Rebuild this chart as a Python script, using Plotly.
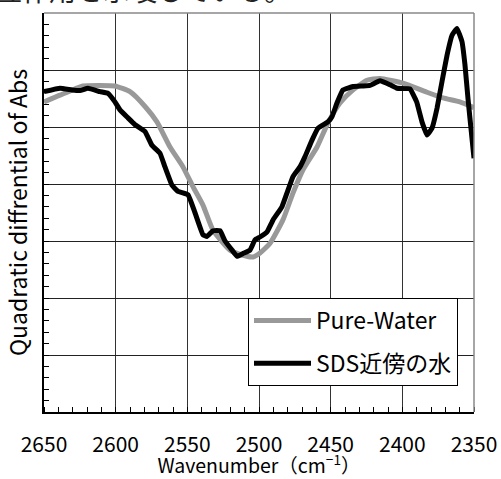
import plotly.graph_objects as go

# Pure-Water (gray)
pw_x = [2650, 2638.8, 2622.8, 2610.9, 2600.5, 2590.0, 2579.5, 2571.2, 2562.1, 2553.0,
        2546.0, 2539.1, 2532.1, 2520.2, 2511.2, 2504.2, 2499.3, 2492.3, 2483.3, 2476.3,
        2469.3, 2459.5, 2451.9, 2443.5, 2434.4, 2424.7, 2415.6, 2399.5, 2382.8, 2371.6,
        2359.8, 2350]
pw_y = [5.44, 5.56, 5.72, 5.73, 5.72, 5.62, 5.36, 5.09, 4.65, 4.30,
        3.95, 3.63, 3.19, 2.84, 2.75, 2.72, 2.79, 2.96, 3.37, 3.84,
        4.25, 4.65, 5.07, 5.42, 5.65, 5.82, 5.85, 5.77, 5.61, 5.51,
        5.44, 5.34]

# SDS近傍の水 (black)
sds_x = [2650, 2638.8, 2630.5, 2624.9, 2619.3, 2610.9, 2605.3, 2600.5, 2597.0, 2591.4,
         2586.5, 2579.5, 2574.7, 2569.1, 2565.6, 2560.7, 2556.5, 2549.5, 2544.7, 2539.1,
         2536.3, 2532.1, 2527.2, 2523.7, 2518.8, 2515.3, 2511.2, 2506.3, 2502.8, 2499.3,
         2494.4, 2490.2, 2484.0, 2480.5, 2476.3, 2471.4, 2467.9, 2463.0, 2458.8, 2451.9,
         2449.1, 2445.6, 2441.4, 2434.4, 2427.4, 2422.6, 2415.6, 2408.6, 2403.7, 2394.7,
         2390.0, 2386.3, 2382.8, 2379.3, 2375.8, 2372.3, 2368.8, 2365.3, 2361.9, 2358.4,
         2356.3, 2354.2, 2351.4, 2350]
sds_y = [5.62, 5.68, 5.65, 5.64, 5.68, 5.62, 5.59, 5.44, 5.30, 5.16,
         5.04, 4.92, 4.68, 4.54, 4.30, 3.98, 3.87, 3.81, 3.50, 3.11,
         3.08, 3.18, 3.18, 3.00, 2.84, 2.73, 2.78, 2.84, 3.02, 3.07,
         3.16, 3.37, 3.60, 3.84, 4.13, 4.30, 4.48, 4.77, 4.98, 5.09,
         5.18, 5.42, 5.65, 5.71, 5.72, 5.73, 5.81, 5.74, 5.68, 5.67,
         5.44, 5.09, 4.86, 4.98, 5.33, 5.80, 6.26, 6.61, 6.73, 6.50,
         6.09, 5.50, 4.80, 4.45]

x_ticks = [2650, 2600, 2550, 2500, 2450, 2400, 2350]
x_tick_labels = [str(v) for v in x_ticks]

FONT = "Noto Sans CJK JP"

fig = go.Figure()
fig.add_trace(go.Scatter(x=pw_x, y=pw_y, mode="lines", name="Pure-Water",
                         legendgroup="a",
                         line=dict(color="#999999", width=5, shape="spline", smoothing=0.5)))
fig.add_trace(go.Scatter(x=sds_x, y=sds_y, mode="lines", name="SDS近傍の水",
                         legendgroup="b",
                         line=dict(color="#000000", width=5, shape="spline", smoothing=0.3)))

fig.update_layout(
    width=501, height=479,
    margin=dict(l=44, r=27, t=13, b=67, autoexpand=False),
    paper_bgcolor="white", plot_bgcolor="white",
    font=dict(family=FONT, color="black"),
    showlegend=True,
    legend=dict(x=0.9628, xanchor="right", y=0.2857, yanchor="top",
                bgcolor="white", bordercolor="black", borderwidth=1,
                font=dict(size=23, family=FONT), tracegroupgap=10,
                itemwidth=57),
    xaxis=dict(range=[2650, 2350], tickvals=x_ticks, ticktext=x_tick_labels,
               showgrid=True, gridcolor="#333333", gridwidth=1,
               showline=True, linecolor="black", linewidth=1.5,
               ticks="", ticklabelstandoff=13, automargin=True,
               tickfont=dict(size=21, family=FONT),
               minor=dict(dtick=10, ticks="inside", ticklen=5, tickcolor="black", showgrid=False),
               title=dict(text="Wavenumber（cm<sup>−1</sup>）", font=dict(size=19.5, family=FONT), standoff=2),
               zeroline=False, fixedrange=True),
    yaxis=dict(range=[0, 7], dtick=1, showticklabels=False, automargin=False,
               showgrid=True, gridcolor="#222222", gridwidth=1,
               showline=True, linecolor="black", linewidth=1.5,
               ticks="inside", ticklen=5, tickcolor="black",
               minor=dict(dtick=0.2, ticks="inside", ticklen=5, tickcolor="black", showgrid=False),
               title=dict(text="Quadratic diffrential of Abs", font=dict(size=23, family=FONT), standoff=9),
               zeroline=False, fixedrange=True),
    shapes=[
        dict(type="line", xref="paper", yref="paper", x0=0, x1=1, y0=1, y1=1,
             line=dict(color="#888888", width=1.5)),
        dict(type="line", xref="paper", yref="paper", x0=1, x1=1, y0=0, y1=1,
             line=dict(color="#888888", width=1.5)),
    ],
    annotations=[
        dict(text="互作用を示唆している。", xref="paper", yref="paper",
             x=-0.1186, xanchor="left", y=1.0, yanchor="bottom", yshift=2,
             showarrow=False, font=dict(size=27, family=FONT, color="#222222")),
    ],
)

fig.write_html("out.html", config={"displayModeBar": False},
               post_script="document.body.style.margin='0';")
